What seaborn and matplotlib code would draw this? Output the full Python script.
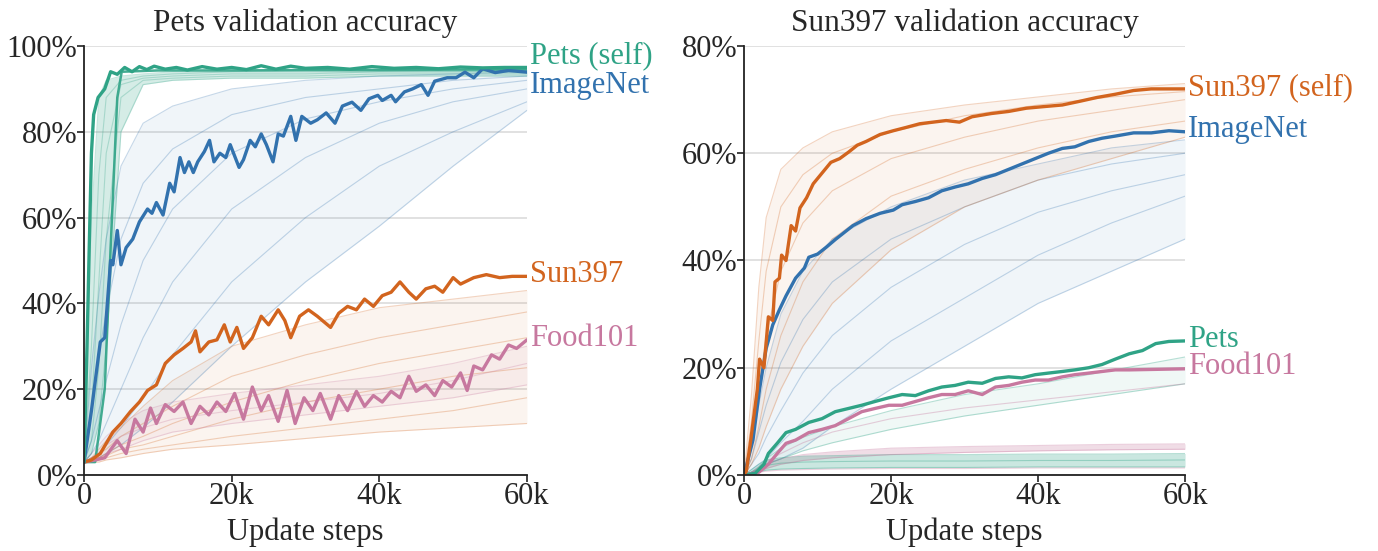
import numpy as np
import pandas as pd
import matplotlib
matplotlib.use("Agg")
import matplotlib.pyplot as plt
import seaborn as sns

# --- colours (Okabe-Ito style) ---
BLUE = "#3272ae"
GREEN = "#2fa386"
ORANGE = "#d2641e"
PINK = "#c7789f"

# --- Pets panel: highlighted runs (steps, accuracy %) ---
PETS_SELF_STEPS = [0, 400, 700, 1000, 1300, 1900, 2800, 3600, 4500, 5500, 6500, 7500, 8500, 9500, 11000, 12500,
                   14000, 16000, 18000, 20000, 22000, 24000, 26000, 28000, 30000, 33000, 36000, 39000, 42000,
                   45000, 48000, 51000, 54000, 57000, 60000]
PETS_SELF_ACC = [3, 30, 53, 75, 84, 88, 90, 94, 93.4, 95, 94, 95.2, 94.5, 95.3, 94.6, 95, 94.4, 95.2, 94.6, 95,
                 94.5, 95.4, 94.6, 95.3, 94.8, 95, 94.6, 95.2, 94.8, 95, 94.7, 95.1, 94.9, 95, 95]

PETS_ALT_STEPS = [0, 1500, 2800, 3600, 4500, 5100, 10000, 20000, 30000, 40000, 50000, 60000]
PETS_ALT_ACC = [3, 3, 20, 53, 88, 94, 94.3, 94.3, 94.4, 94.4, 94.5, 94.5]

PETS_IN_STEPS = [0, 1000, 2200, 2800, 3600, 3900, 4500, 5000, 5700, 6600, 7500, 8600, 9200, 9800, 10700, 11600,
                 12200, 13000, 13600, 14200, 14800, 15400, 16300, 17000, 17600, 18400, 19200, 19800, 21000, 21600,
                 22500, 23200, 24000, 24700, 25600, 26300, 27000, 28000, 28700, 29500, 30700, 31600, 32800, 34000,
                 35000, 36300, 37500, 38600, 39800, 40400, 41600, 42200, 43400, 44500, 45700, 46600, 47500, 49200,
                 50400, 51600, 52800, 54000, 55700, 57500, 60000]
PETS_IN_ACC = [3, 15, 31, 32, 50, 49, 57, 49, 53, 55, 59, 62, 61, 63.5, 60.6, 68, 66, 74, 70.5, 73, 70.5, 73,
               75.4, 78, 73, 75, 74, 77, 71.7, 73.5, 78, 76.5, 79.5, 77, 73, 79.5, 79, 83.6, 78, 83.6, 82, 82.8,
               84.4, 82, 86, 86.9, 85, 87.7, 88.5, 87.3, 88.5, 87, 89.3, 90, 91, 88.5, 91.8, 92.6, 92.6, 93.9, 92.6,
               94.7, 93.8, 94.3, 93.9]

PETS_SUN_STEPS = [0, 1000, 2200, 3900, 5000, 6300, 7500, 8600, 9800, 11000, 12200, 13400, 14500, 15100, 15700,
                  16900, 18000, 19000, 19800, 20700, 21600, 22800, 24000, 25000, 26300, 27200, 28000, 29200, 30400,
                  31600, 33400, 34500, 35700, 36900, 38000, 39200, 40400, 41600, 42800, 44000, 45000, 46300, 47500,
                  48600, 50000, 51000, 52800, 54500, 56300, 58000, 60000]
PETS_SUN_ACC = [3, 3.5, 5, 10, 12, 14.8, 17, 19.7, 21, 26, 28, 29.5, 31, 33.6, 28.7, 31, 31.5, 35, 31, 34.4, 29.5,
                32, 37, 35, 38.5, 36, 32, 37, 38.5, 37, 34.4, 37.7, 39.3, 38.5, 41, 39.3, 41.8, 42.6, 45, 42.6, 41,
                43.4, 44, 42.6, 46, 44.5, 46, 46.7, 46, 46.3, 46.3]

PETS_FOOD_STEPS = [0, 1500, 2800, 4500, 5700, 6900, 8000, 9000, 9800, 11000, 12200, 13400, 14500, 15700, 16900,
                   18000, 19200, 20400, 21600, 22800, 24000, 25000, 26300, 27500, 28600, 29800, 31000, 32000, 33400,
                   34500, 35700, 36900, 38000, 39200, 40400, 41600, 42800, 44000, 45000, 46300, 47500, 48600, 49800,
                   51000, 51900, 52800, 54000, 55200, 56300, 57500, 58600, 60000]
PETS_FOOD_ACC = [3, 3.5, 4, 8, 5, 13, 10, 15.6, 12, 16.4, 14.8, 17, 12, 16, 14, 17, 14.8, 19, 13, 20.5, 15, 18.5,
                 12.5, 19.7, 12, 18, 15, 19, 13, 18.5, 15, 19.5, 16, 18.5, 17, 19.5, 18, 23, 19.5, 21, 18.5, 22,
                 20.5, 23.8, 19.7, 25.4, 24.5, 28, 27, 30.3, 29.5, 31.5]

# --- Sun397 panel: highlighted runs ---
SUN_SELF_STEPS = [0, 300, 900, 1800, 2100, 2700, 3300, 3900, 4200, 4800, 5100, 5700, 6400, 7000, 7600, 8500,
                  9400, 10600, 11800, 13000, 14200, 15400, 16600, 18500, 20300, 22000, 23900, 25700, 27500, 29300,
                  31000, 33600, 36000, 38400, 40800, 43300, 45700, 48000, 50500, 53000, 55400, 57800, 60000]
SUN_SELF_ACC = [0, 0.7, 6.5, 16, 21.6, 20, 29.5, 28.8, 36, 36.7, 41, 40, 46.5, 45.5, 49.8, 51.7, 54.3, 56.3, 58.3,
                59, 60.2, 61.5, 62.2, 63.5, 64.2, 64.8, 65.5, 65.8, 66.1, 65.8, 66.8, 67.4, 67.8, 68.4, 68.7, 69,
                69.7, 70.4, 71, 71.7, 72, 72, 72]

SUN_IN_STEPS = [0, 1200, 2100, 3000, 3900, 4800, 5700, 7000, 8200, 8800, 10000, 11200, 12400, 13600, 14800, 16600,
                18500, 20300, 21500, 23300, 25100, 26900, 28700, 30500, 32400, 34200, 36000, 37800, 39600, 41400,
                43300, 45000, 46900, 48700, 50500, 53000, 55400, 57800, 60000]
SUN_IN_ACC = [0, 6.5, 16, 23.6, 28, 30.8, 33.4, 36.7, 38.6, 40.6, 41.2, 42.5, 43.9, 45.2, 46.5, 47.8, 48.8, 49.4,
              50.4, 51, 51.7, 53, 53.7, 54.3, 55.3, 56, 57, 58, 59, 60, 60.9, 61.2, 62.2, 62.8, 63.2, 63.8, 63.8,
              64.2, 64]

SUN_PETS_STEPS = [0, 1500, 2700, 3300, 4500, 5700, 7000, 8800, 10600, 12400, 14200, 16000, 17800, 19700, 21500,
                  23300, 25100, 26900, 28700, 30500, 32400, 34200, 36000, 37800, 39600, 41400, 43300, 45000, 46900,
                  48700, 50500, 52400, 54200, 56000, 57800, 60000]
SUN_PETS_ACC = [0, 0.3, 2, 4, 5.9, 7.9, 8.5, 9.8, 10.5, 11.8, 12.4, 13, 13.7, 14.4, 15, 14.8, 15.7, 16.4, 16.7,
                17.3, 17.1, 18, 18.3, 18.1, 18.7, 19, 19.3, 19.6, 20, 20.6, 21.6, 22.6, 23.2, 24.5, 24.9, 25]

SUN_FOOD_STEPS = [0, 2000, 3300, 4500, 5700, 7000, 8800, 10600, 12400, 14200, 16000, 17800, 19700, 21500, 23300,
                  25100, 26900, 28700, 30500, 32400, 34200, 36000, 37800, 39600, 41400, 43300, 45000, 46900, 48700,
                  50500, 52400, 60000]
SUN_FOOD_ACC = [0, 0.5, 2, 4, 5.9, 6.5, 7.9, 8.5, 9.2, 10.5, 11.8, 12.4, 13, 13, 13.7, 14.4, 15, 15, 15.7, 15,
                16.4, 16.7, 17.3, 17.7, 17.7, 18.3, 18.7, 19, 19.3, 19.6, 19.6, 19.8]

# --- faint background runs, sampled on a common step grid ---
BG_STEPS = [0, 1000, 2000, 3000, 5000, 8000, 12000, 20000, 30000, 40000, 50000, 60000]

PETS_BG_GREEN = [
    [3, 60, 88, 92, 93, 93.5, 94, 94, 94.5, 94.5, 94.5, 94.5],
    [3, 30, 70, 88, 92, 93, 93.5, 94, 94, 94, 94, 94],
    [3, 15, 45, 75, 91, 92.5, 93, 93.5, 93.5, 94, 94, 94],
    [3, 8, 25, 55, 88, 92, 92.5, 93, 93, 93.5, 93.5, 93.5],
    [3, 5, 12, 30, 80, 91, 92, 92.5, 92.5, 93, 93, 93],
]
PETS_BG_BLUE = [
    [3, 25, 42, 55, 72, 82, 86, 90, 92, 93, 93.5, 94],
    [3, 15, 28, 38, 55, 68, 76, 84, 88, 90, 92, 93],
    [3, 8, 15, 22, 35, 50, 62, 75, 83, 87, 90, 92],
    [3, 5, 8, 12, 20, 32, 45, 62, 74, 82, 87, 90],
    [3, 4, 5, 7, 11, 18, 28, 45, 60, 72, 80, 87],
    [3, 3, 4, 5, 7, 11, 17, 30, 45, 58, 72, 85],
]
PETS_BG_ORANGE = [
    [3, 4, 6, 8, 11, 16, 22, 30, 35, 39, 41, 43],
    [3, 4, 5, 6, 9, 12, 16, 23, 28, 32, 35, 38],
    [3, 3.5, 4, 5, 7, 9, 12, 17, 22, 26, 29, 32],
    [3, 3.5, 4, 4.5, 6, 7, 9, 13, 17, 20, 23, 25],
    [3, 3, 3.5, 4, 5, 6, 7, 9, 11, 13, 15, 18],
    [3, 3, 3, 3.5, 4, 5, 6, 7, 8.5, 10, 11, 12],
]
PETS_BG_PINK = [
    [3, 5, 7, 9, 12, 15, 17, 19, 21, 23, 26, 30],
    [3, 4, 5, 7, 9, 11, 13, 15, 17, 19, 22, 26],
    [3, 3.5, 4, 5, 6, 8, 10, 12, 14, 16, 18, 21],
]

SUN_BG_ORANGE = [
    [0, 15, 35, 48, 57, 61, 64, 67, 69, 70.5, 72, 73],
    [0, 10, 25, 38, 50, 56, 60, 64, 67, 69, 70.5, 71.5],
    [0, 6, 16, 26, 38, 47, 53, 59, 63, 66, 68, 70],
    [0, 3, 9, 16, 26, 36, 44, 52, 57, 61, 64, 66],
    [0, 2, 5, 9, 16, 24, 32, 42, 50, 55, 59, 63],
]
SUN_BG_BLUE = [
    [0, 5, 13, 20, 30, 38, 44, 50, 55, 58, 61, 62.5],
    [0, 3, 8, 13, 21, 29, 36, 44, 50, 55, 58, 60],
    [0, 2, 4, 7, 12, 19, 26, 35, 43, 49, 53, 56],
    [0, 1, 2, 3, 6, 10, 16, 25, 33, 41, 47, 52],
    [0, 0.5, 1, 2, 3, 5, 9, 16, 24, 32, 38, 44],
]
SUN_BG_GREEN = [
    [0, 0.5, 1.5, 3, 5, 7, 9, 12, 15, 17, 19.5, 22],
    [0, 0.5, 1, 2, 3, 4.5, 6, 8.5, 11, 13, 15, 17],
    [0, 1, 2, 2.8, 3.2, 3.5, 3.6, 3.8, 3.8, 3.9, 3.9, 4],
    [0, 0.5, 1.2, 1.8, 2.2, 2.4, 2.5, 2.6, 2.6, 2.7, 2.7, 2.8],
    [0, 0.3, 0.6, 0.9, 1.1, 1.2, 1.3, 1.4, 1.4, 1.5, 1.5, 1.5],
]
SUN_BG_PINK = [
    [0, 0.5, 1.5, 2.5, 4, 6, 8, 10.5, 12.5, 14, 15.5, 17],
    [0, 0.5, 1.2, 2, 3, 3.8, 4.3, 5, 5.3, 5.5, 5.7, 5.8],
    [0, 0.3, 0.7, 1.2, 2, 2.7, 3.2, 3.8, 4.2, 4.5, 4.7, 4.8],
    [0, 0.3, 0.5, 0.7, 0.9, 1, 1.1, 1.2, 1.2, 1.3, 1.3, 1.3],
]

X_TICKS = [0, 20000, 40000, 60000]
X_TICK_LABELS = ["0", "20k", "40k", "60k"]

sns.set_theme(style="white")
plt.rcParams["font.family"] = ["Liberation Serif", "DejaVu Serif"]

fig = plt.figure(figsize=(13.78, 5.51), dpi=100)
ax1 = fig.add_axes([0.061, 0.138, 0.3214, 0.7785])
ax2 = fig.add_axes([0.540, 0.138, 0.320, 0.7785])


def draw_bundle(ax, curves, color, fill=(0, -1), fill_alpha=0.07, line_alpha=0.28):
    # faint haze between two of the runs, then each run as a thin line
    if fill is not None:
        ax.fill_between(BG_STEPS, curves[fill[0]], curves[fill[1]], color=color, alpha=fill_alpha, lw=0)
    for c in curves:
        ax.plot(BG_STEPS, c, color=color, alpha=line_alpha, lw=0.8)


def main_line(ax, steps, acc, color, lw=2.4, alpha=1.0):
    df = pd.DataFrame({"step": steps, "acc": acc})
    sns.lineplot(data=df, x="step", y="acc", ax=ax, color=color, lw=lw, alpha=alpha,
                 estimator=None, sort=False)


def style_axis(ax, ymax, title):
    ax.set_xlim(0, 60000)
    ax.set_ylim(0, ymax)
    ax.set_xticks(X_TICKS)
    ax.set_xticklabels(X_TICK_LABELS)
    yt = list(range(0, ymax + 1, 20))
    ax.set_yticks(yt)
    ax.set_yticklabels([f"{v}%" for v in yt])
    ax.yaxis.grid(True, color="#dcdcdc", lw=1.2)
    ax.xaxis.grid(False)
    ax.set_axisbelow(True)
    sns.despine(ax=ax)
    for s in ("left", "bottom"):
        ax.spines[s].set_color("#222222")
        ax.spines[s].set_linewidth(1.3)
    ax.tick_params(axis="both", which="major", labelsize=22, length=5, width=1.2,
                   color="#222222", left=True, bottom=True, pad=0)
    ax.set_xlabel("Update steps", fontsize=22, labelpad=5)
    ax.set_ylabel("")
    ax.set_title(title, fontsize=22.5, pad=11)


# ---- Pets panel ----
draw_bundle(ax1, PETS_BG_BLUE, BLUE)
draw_bundle(ax1, PETS_BG_ORANGE, ORANGE)
draw_bundle(ax1, PETS_BG_PINK, PINK)
draw_bundle(ax1, PETS_BG_GREEN, GREEN, fill_alpha=0.2)
main_line(ax1, PETS_ALT_STEPS, PETS_ALT_ACC, GREEN, lw=1.8, alpha=0.9)
main_line(ax1, PETS_FOOD_STEPS, PETS_FOOD_ACC, PINK)
main_line(ax1, PETS_SUN_STEPS, PETS_SUN_ACC, ORANGE)
main_line(ax1, PETS_IN_STEPS, PETS_IN_ACC, BLUE)
main_line(ax1, PETS_SELF_STEPS, PETS_SELF_ACC, GREEN)
style_axis(ax1, 100, "Pets validation accuracy")
for label, y, col in [("Pets (self)", 97.8, GREEN), ("ImageNet", 90.8, BLUE),
                      ("Sun397", 46.8, ORANGE), ("Food101", 31.8, PINK)]:
    ax1.text(60400, y, label, color=col, fontsize=22, va="center", ha="left", clip_on=False)

# ---- Sun397 panel ----
draw_bundle(ax2, SUN_BG_BLUE, BLUE)
draw_bundle(ax2, SUN_BG_ORANGE, ORANGE)
draw_bundle(ax2, SUN_BG_GREEN, GREEN, fill=(0, 1), line_alpha=0.35)
draw_bundle(ax2, SUN_BG_PINK, PINK, fill=(1, 2), fill_alpha=0.25, line_alpha=0.35)
ax2.fill_between(BG_STEPS, SUN_BG_GREEN[2], SUN_BG_GREEN[4], color=GREEN, alpha=0.25, lw=0)
main_line(ax2, SUN_FOOD_STEPS, SUN_FOOD_ACC, PINK)
main_line(ax2, SUN_PETS_STEPS, SUN_PETS_ACC, GREEN)
main_line(ax2, SUN_IN_STEPS, SUN_IN_ACC, BLUE)
main_line(ax2, SUN_SELF_STEPS, SUN_SELF_ACC, ORANGE)
style_axis(ax2, 80, "Sun397 validation accuracy")
for label, y, col in [("Sun397 (self)", 72.2, ORANGE), ("ImageNet", 64.4, BLUE),
                      ("Pets", 25.3, GREEN), ("Food101", 20.2, PINK)]:
    ax2.text(60400, y, label, color=col, fontsize=22, va="center", ha="left", clip_on=False)

fig.savefig("out.png", dpi=100)
